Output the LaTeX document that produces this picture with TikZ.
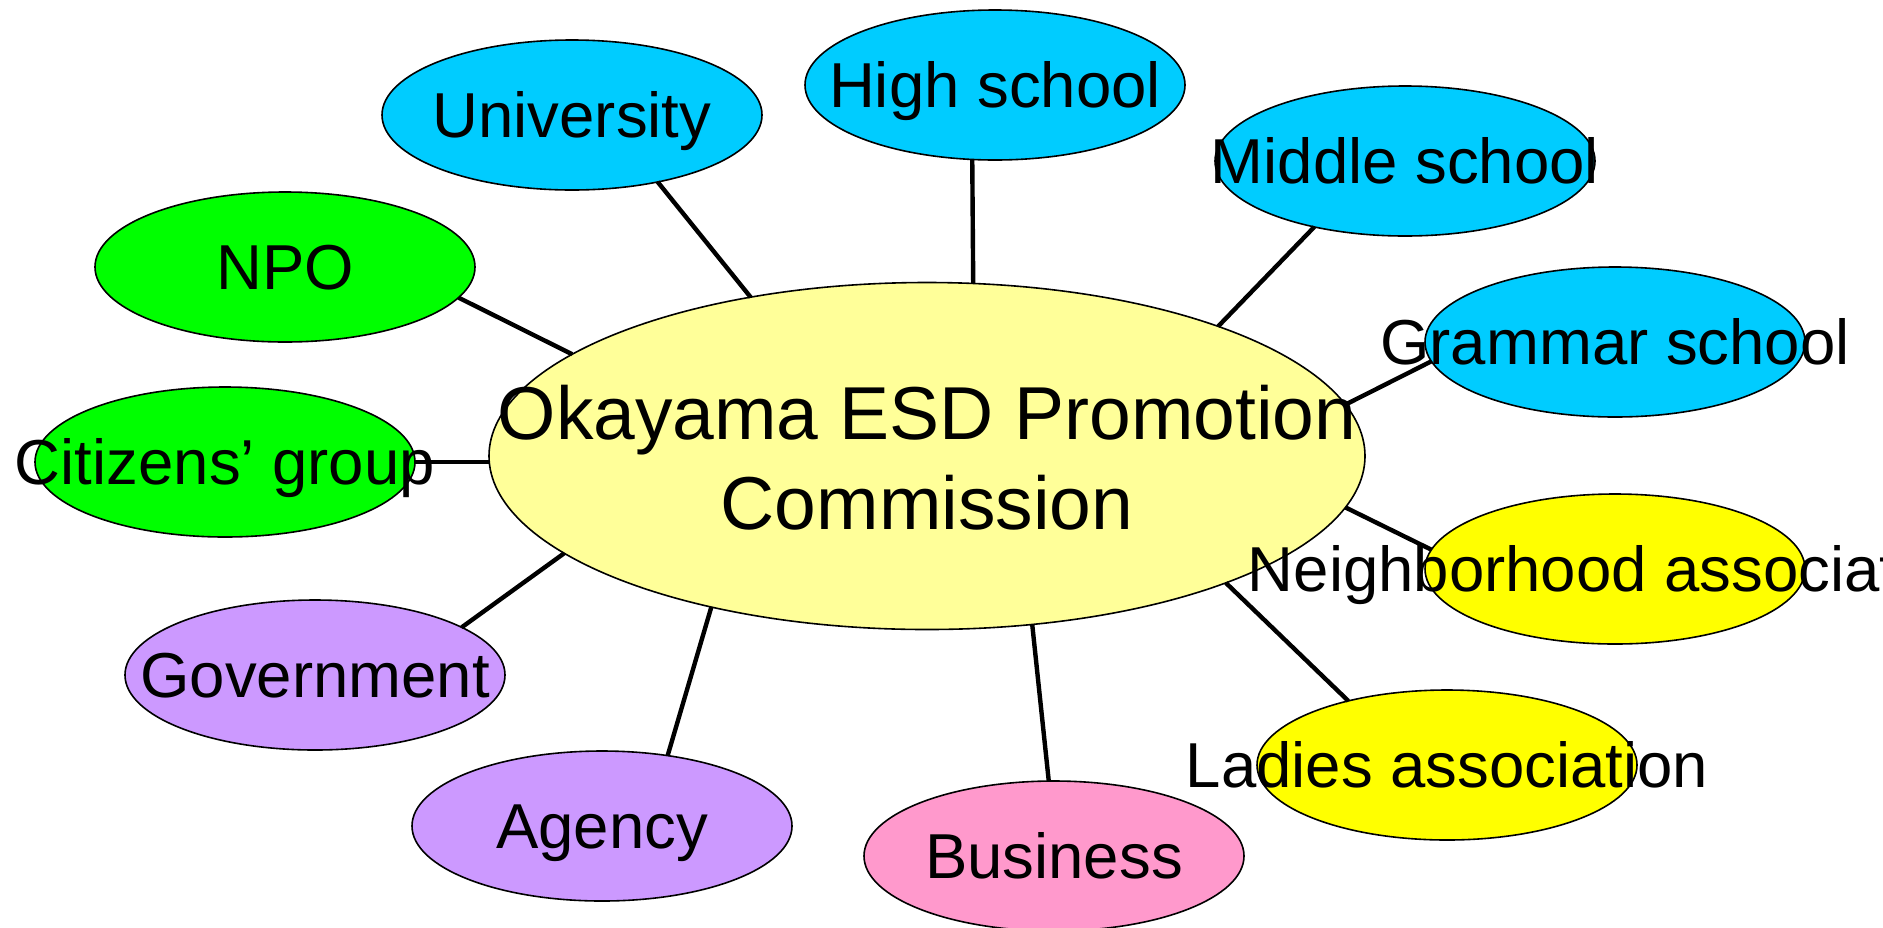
\documentclass[tikz,border=0pt]{standalone}
\usepackage{fontspec}
\setmainfont{Liberation Sans}
\usetikzlibrary{shapes.geometric}
\definecolor{schoolcyan}{HTML}{00CCFF}
\definecolor{civicgreen}{HTML}{00FF00}
\definecolor{govpurple}{HTML}{CC99FF}
\definecolor{bizpink}{HTML}{FF99CC}
\definecolor{assocyellow}{HTML}{FFFF00}
\definecolor{hubyellow}{HTML}{FFFF99}
\tikzset{
  sat/.style={ellipse, draw=black, line width=0.8pt, minimum width=190pt, minimum height=75pt, inner sep=0pt, outer sep=0pt},
  hub/.style={ellipse, draw=black, line width=0.8pt, minimum width=438pt, minimum height=173.5pt, inner sep=0pt, outer sep=0pt, fill=hubyellow},
  lbl/.style={font=\fontsize{31.75}{36}\selectfont, text height=22.7pt, text depth=0pt, inner sep=0pt},
  hublbl/.style={font=\fontsize{37.5}{45}\selectfont, align=center, text height=26.5pt, text depth=0pt, inner sep=0pt},
  link/.style={line width=2.2pt}
}
\begin{document}
\begin{tikzpicture}[x=0.5pt, y=-0.5pt]
\useasboundingbox (0,0) rectangle (1883,927);
\fill[white] (0,0) rectangle (1883,927);
% ellipses
\node[hub] (C) at (927,456) {};
\node[sat, fill=schoolcyan] (U) at (572,115) {};
\node[sat, fill=schoolcyan] (HS) at (995,85) {};
\node[sat, fill=schoolcyan] (MS) at (1405,161) {};
\node[sat, fill=schoolcyan] (GS) at (1615,342) {};
\node[sat, fill=civicgreen] (NPO) at (285,267) {};
\node[sat, fill=civicgreen] (CG) at (225,462) {};
\node[sat, fill=govpurple] (GV) at (315,675) {};
\node[sat, fill=govpurple] (AG) at (602,826) {};
\node[sat, fill=bizpink] (BZ) at (1054,856) {};
\node[sat, fill=assocyellow] (NA) at (1615,569) {};
\node[sat, fill=assocyellow] (LA) at (1447,765) {};
% connectors
\draw[link] (C.138.7) -- (U.-38.4);
\draw[link] (C.75.2) -- (HS.253.7);
\draw[link] (C.24.5) -- (MS.216.7);
\draw[link] (C.7.7) -- (GS.186.4);
\draw[link] (C.164.7) -- (NPO.-10.4);
\draw[link] (CG.east) -- (CG.east -| C.west);
\draw[link] (C.195.3) -- (GV.18.6);
\draw[link] (C.215.6) -- (AG.47.8);
\draw[link] (C.302.2) -- (BZ.94.6);
\draw[link] (C.-7.8) -- (NA.174.8);
\draw[link] (C.-23.2) -- (LA.147.4);
% texts
\node[hublbl] (tC) at (927,503) {Okayama ESD Promotion\\Commission};
\node[lbl] (tU) at (U) {University};
\node[lbl] (tHS) at (HS) {High school};
\node[lbl] (tMS) at (MS) {Middle school};
\node[lbl] (tGS) at (GS) {Grammar school};
\node[lbl] (tNPO) at (NPO) {NPO};
\node[lbl] (tCG) at (CG) {Citizens’ group};
\node[lbl] (tGV) at (GV) {Government};
\node[lbl] (tAG) at (AG) {Agency};
\node[lbl] (tBZ) at (BZ) {Business};
\node[lbl] (tNA) at (NA) {Neighborhood association};
\node[lbl] (tLA) at (LA) {Ladies association};
\end{tikzpicture}
\end{document}
